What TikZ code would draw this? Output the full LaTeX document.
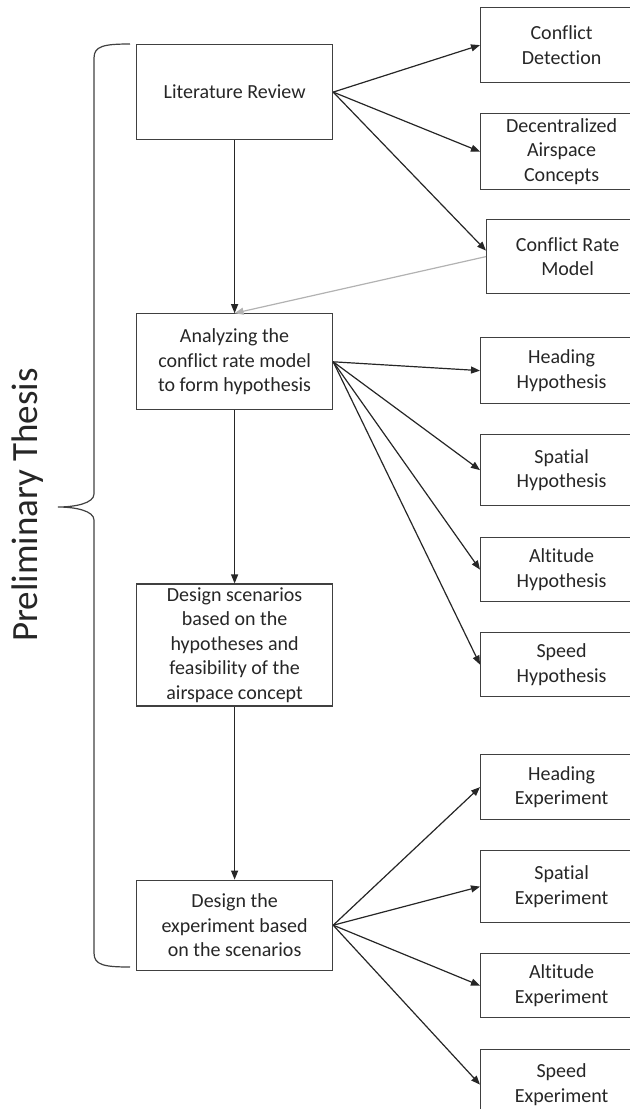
\documentclass[tikz,border=0pt]{standalone}
\usepackage{fontspec}
\setmainfont{Carlito}[RawFeature={-liga;-clig;-calt}]
\usetikzlibrary{positioning}
\usetikzlibrary{arrows.meta}

\tikzset{
  stage/.style={draw=black!75, line width=0.6pt, minimum width=98pt, align=center, inner sep=1pt},
  result/.style={draw=black!75, line width=0.6pt, minimum width=81pt, anchor=north west, align=center, inner sep=1pt},
  flow/.style={-{Triangle[length=4.5pt,width=3.5pt]}, line width=0.6pt, black!85},
}

\begin{document}
\begin{tikzpicture}[x=0.5pt, y=-0.5pt, node distance=86.5pt, font=\fontsize{10}{12.2}\selectfont, text=black!85]
    \useasboundingbox (0,0) rectangle (630,1109);
    \clip (0,0) rectangle (630,1109);

    % main column
    \node[stage, minimum height=47.5pt, anchor=north west] (review) at (136,44) {Literature Review};
    \node[stage, minimum height=48pt, below=of review] (analysis) {Analyzing the\\conflict rate model\\to form hypothesis};
    \node[stage, minimum height=61pt, below=of analysis] (scenarios) {Design scenarios\\based on the\\hypotheses and\\feasibility of the\\airspace concept};
    \node[stage, minimum height=45pt, below=of scenarios] (experiment) {Design the\\experiment based\\on the scenarios};

    % outcomes on the right
    \node[result, minimum height=37.5pt] (detection) at (480,7) {Conflict\\Detection};
    \node[result, minimum height=38pt] (airspace) at (480,113) {Decentralized\\Airspace\\Concepts};
    \node[result, minimum height=37pt] (ratemodel) at (486,219) {Conflict Rate\\Model};

    \node[result, minimum height=33pt] (hhyp) at (480,337) {Heading\\Hypothesis};
    \node[result, minimum height=35.5pt] (shyp) at (480,434) {Spatial\\Hypothesis};
    \node[result, minimum height=32pt] (ahyp) at (480,537) {Altitude\\Hypothesis};
    \node[result, minimum height=32pt] (vhyp) at (480,632) {Speed\\Hypothesis};

    \node[result, minimum height=32.5pt] (hexp) at (480,754) {Heading\\Experiment};
    \node[result, minimum height=36pt] (sexp) at (480,850) {Spatial\\Experiment};
    \node[result, minimum height=32pt] (aexp) at (480,953) {Altitude\\Experiment};
    \node[result, minimum height=35pt] (vexp) at (480,1049) {Speed\\Experiment};

    % brace and its label
    \node[rotate=90, font=\fontsize{18.5}{22}\selectfont] (phase) at (28,505) {Preliminary Thesis};
    \draw[line width=0.6pt, black!75] (130,44) .. controls (104,44) and (94,46) .. (94,58) -- (94,494)
        .. controls (94,503) and (76,507) .. (58,507)
        .. controls (76,507) and (94,511) .. (94,520) -- (94,953)
        .. controls (94,965) and (104,967) .. (130,967);

    \draw[flow] (review) -- (analysis);
    \draw[flow] (analysis) -- (scenarios);
    \draw[flow] (scenarios) -- (experiment);

    \draw[flow] (review.east) -- (detection.west);
    \draw[flow] (review.east) -- (airspace.west);
    \draw[flow] (review.east) -- ([yshift=3pt]ratemodel.west);
    \draw[flow, black!30] (ratemodel.west) -- (analysis.north);

    \foreach \n in {hhyp, shyp, ahyp, vhyp}
        \draw[flow] (analysis.east) -- (\n.west);
    \foreach \n in {hexp, sexp, aexp, vexp}
        \draw[flow] (experiment.east) -- (\n.west);
\end{tikzpicture}
\end{document}
